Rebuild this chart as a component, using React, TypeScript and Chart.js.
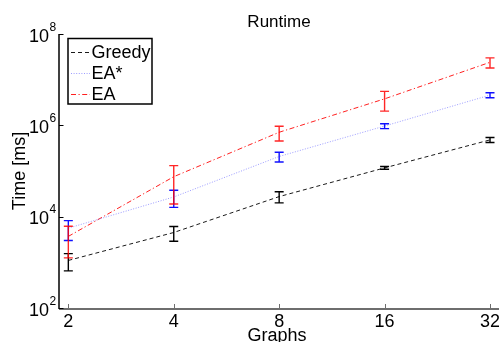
import React, { useEffect, useRef } from 'react';
import { Chart, registerables } from 'chart.js';

Chart.register(...registerables);

// ---- data ----
const graphs = [2, 4, 8, 16, 32];
const seriesLabels = ['Greedy', 'EA*', 'EA'];
const greedyMean = [1100, 4500, 27500, 117000, 480000];
const greedyStd = [450, 1600, 7500, 8000, 60000];
const eaStarMean = [5600, 27000, 208000, 965000, 4600000];
const eaStarStd = [2600, 11000, 50000, 120000, 575000];
const eaMean = [3700, 75000, 705000, 3800000, 24000000];
const eaStd = [2450, 56000, 250000, 1750000, 6000000];
const yTickExponents = [2, 4, 6, 8];
const xTickLabels = ['2', '4', '8', '16', '32'];
const titleText = 'Runtime';
const xLabel = 'Graphs';
const yLabel = 'Time [ms]';

const FONT = '"Liberation Sans", Arial, Helvetica, sans-serif';

const lineColors = ['#1a1a1a', 'rgba(90,90,255,0.6)', 'rgba(255,20,20,0.95)'];
const lineDashes = [[4, 3], [1, 1.6], [5, 2.5, 1.2, 2.5]];
const errColors = ['#000000', '#1010ff', 'rgba(255,0,0,0.85)'];
const stds = [greedyStd, eaStarStd, eaStd];
const means = [greedyMean, eaStarMean, eaMean];

const errorBarPlugin = {
  id: 'errorBars',
  afterDatasetsDraw(chart: any) {
    const ctx = chart.ctx;
    const xs = chart.scales.x;
    const ys = chart.scales.y;
    chart.data.datasets.forEach((ds: any, i: number) => {
      ctx.save();
      ctx.strokeStyle = errColors[i];
      ctx.lineWidth = 1.4;
      ctx.setLineDash([]);
      ds.data.forEach((p: any, j: number) => {
        const s = stds[i][j];
        const px = xs.getPixelForValue(p.x);
        const top = ys.getPixelForValue(p.y + s);
        const bot = ys.getPixelForValue(p.y - s);
        ctx.beginPath();
        ctx.moveTo(px, top);
        ctx.lineTo(px, bot);
        ctx.moveTo(px - 4.5, top);
        ctx.lineTo(px + 4.5, top);
        ctx.moveTo(px - 4.5, bot);
        ctx.lineTo(px + 4.5, bot);
        ctx.stroke();
      });
      ctx.restore();
    });
  },
};

const decorPlugin = {
  id: 'decor',
  afterDraw(chart: any) {
    const ctx = chart.ctx;
    const xs = chart.scales.x;
    const ys = chart.scales.y;
    const a = chart.chartArea;
    ctx.save();
    ctx.setLineDash([]);

    // bottom axis (gray)
    ctx.strokeStyle = '#6e6e6e';
    ctx.lineWidth = 2;
    ctx.beginPath();
    ctx.moveTo(a.left, a.bottom + 1);
    ctx.lineTo(a.right, a.bottom + 1);
    ctx.stroke();
    // x ticks (inward)
    ctx.lineWidth = 1;
    graphs.forEach((g) => {
      const px = Math.round(xs.getPixelForValue(g)) + 0.5;
      ctx.beginPath();
      ctx.moveTo(px, a.bottom);
      ctx.lineTo(px, a.bottom - 4);
      ctx.stroke();
    });

    // left axis (black)
    ctx.strokeStyle = '#000';
    ctx.lineWidth = 1.5;
    ctx.beginPath();
    ctx.moveTo(a.left, a.top);
    ctx.lineTo(a.left, a.bottom + 1);
    ctx.stroke();
    ctx.lineWidth = 1;
    yTickExponents.forEach((e) => {
      const py = Math.round(ys.getPixelForValue(Math.pow(10, e))) + 0.5;
      ctx.beginPath();
      ctx.moveTo(a.left, py);
      ctx.lineTo(a.left + 4.5, py);
      ctx.stroke();
    });

    // y tick labels 10^e
    ctx.fillStyle = '#000';
    yTickExponents.forEach((e) => {
      const py = ys.getPixelForValue(Math.pow(10, e));
      ctx.font = `18px ${FONT}`;
      ctx.textAlign = 'right';
      ctx.textBaseline = 'alphabetic';
      ctx.fillText('10', 49, py + 7.5);
      ctx.font = `12px ${FONT}`;
      ctx.textAlign = 'left';
      ctx.fillText(String(e), 49.5, py - 3.5);
    });

    // x tick labels
    ctx.font = `18px ${FONT}`;
    ctx.textAlign = 'center';
    ctx.textBaseline = 'alphabetic';
    graphs.forEach((g, i) => {
      ctx.fillText(xTickLabels[i], xs.getPixelForValue(g), 327);
    });

    // x label
    const cx = (a.left + a.right) / 2;
    ctx.fillText(xLabel, cx - 2, 341);

    // title
    ctx.font = `17px ${FONT}`;
    ctx.fillText(titleText, cx, 26.5);

    // y label
    ctx.font = `18px ${FONT}`;
    ctx.translate(24.5, (a.top + a.bottom) / 2);
    ctx.rotate(-Math.PI / 2);
    ctx.textAlign = 'center';
    ctx.fillText(yLabel, 0, 0);
    ctx.setTransform(1, 0, 0, 1, 0, 0);

    // legend
    const bx = 68, by = 38.5, bw = 84, bh = 65.5;
    ctx.fillStyle = '#fff';
    ctx.fillRect(bx, by, bw, bh);
    ctx.strokeStyle = '#000';
    ctx.lineWidth = 1.5;
    ctx.strokeRect(bx, by, bw, bh);
    const rows = [51.7, 72.7, 94];
    seriesLabels.forEach((lab, i) => {
      const ry = rows[i];
      ctx.strokeStyle = lineColors[i];
      ctx.lineWidth = 1;
      ctx.setLineDash(lineDashes[i]);
      ctx.beginPath();
      ctx.moveTo(71, Math.round(ry) + 0.5);
      ctx.lineTo(90, Math.round(ry) + 0.5);
      ctx.stroke();
      ctx.setLineDash([]);
      ctx.fillStyle = '#000';
      ctx.font = `18px ${FONT}`;
      ctx.textAlign = 'left';
      ctx.textBaseline = 'middle';
      ctx.fillText(lab, 91.5, ry + 1);
    });
    ctx.restore();
  },
};

export default function App() {
  const ref = useRef<HTMLCanvasElement | null>(null);
  useEffect(() => {
    if (!ref.current) return;
    const datasets = seriesLabels.map((lab, i) => ({
      label: lab,
      data: graphs.map((g, j) => ({ x: g, y: means[i][j] })),
      borderColor: lineColors[i],
      borderWidth: 1,
      borderDash: lineDashes[i],
      pointRadius: 0,
      fill: false,
      tension: 0,
    }));
    const chart = new Chart(ref.current, {
      type: 'line',
      data: { datasets },
      plugins: [errorBarPlugin, decorPlugin],
      options: {
        animation: false,
        responsive: false,
        maintainAspectRatio: false,
        layout: { padding: { left: 59, right: 0, top: 34, bottom: 34 } },
        plugins: { legend: { display: false }, title: { display: false }, tooltip: { enabled: false } },
        scales: {
          x: { type: 'logarithmic', min: 1.881, max: 33.95, bounds: 'data', display: false },
          y: { type: 'logarithmic', min: 100, max: 1e8, bounds: 'data', display: false },
        },
      },
    } as any);
    return () => chart.destroy();
  }, []);
  return (
    <div style={{ position: 'fixed', left: 0, top: 0, width: 499, height: 342, background: '#fff' }}>
      <canvas ref={ref} width={499} height={342} style={{ display: 'block', width: 499, height: 342 }} />
    </div>
  );
}
